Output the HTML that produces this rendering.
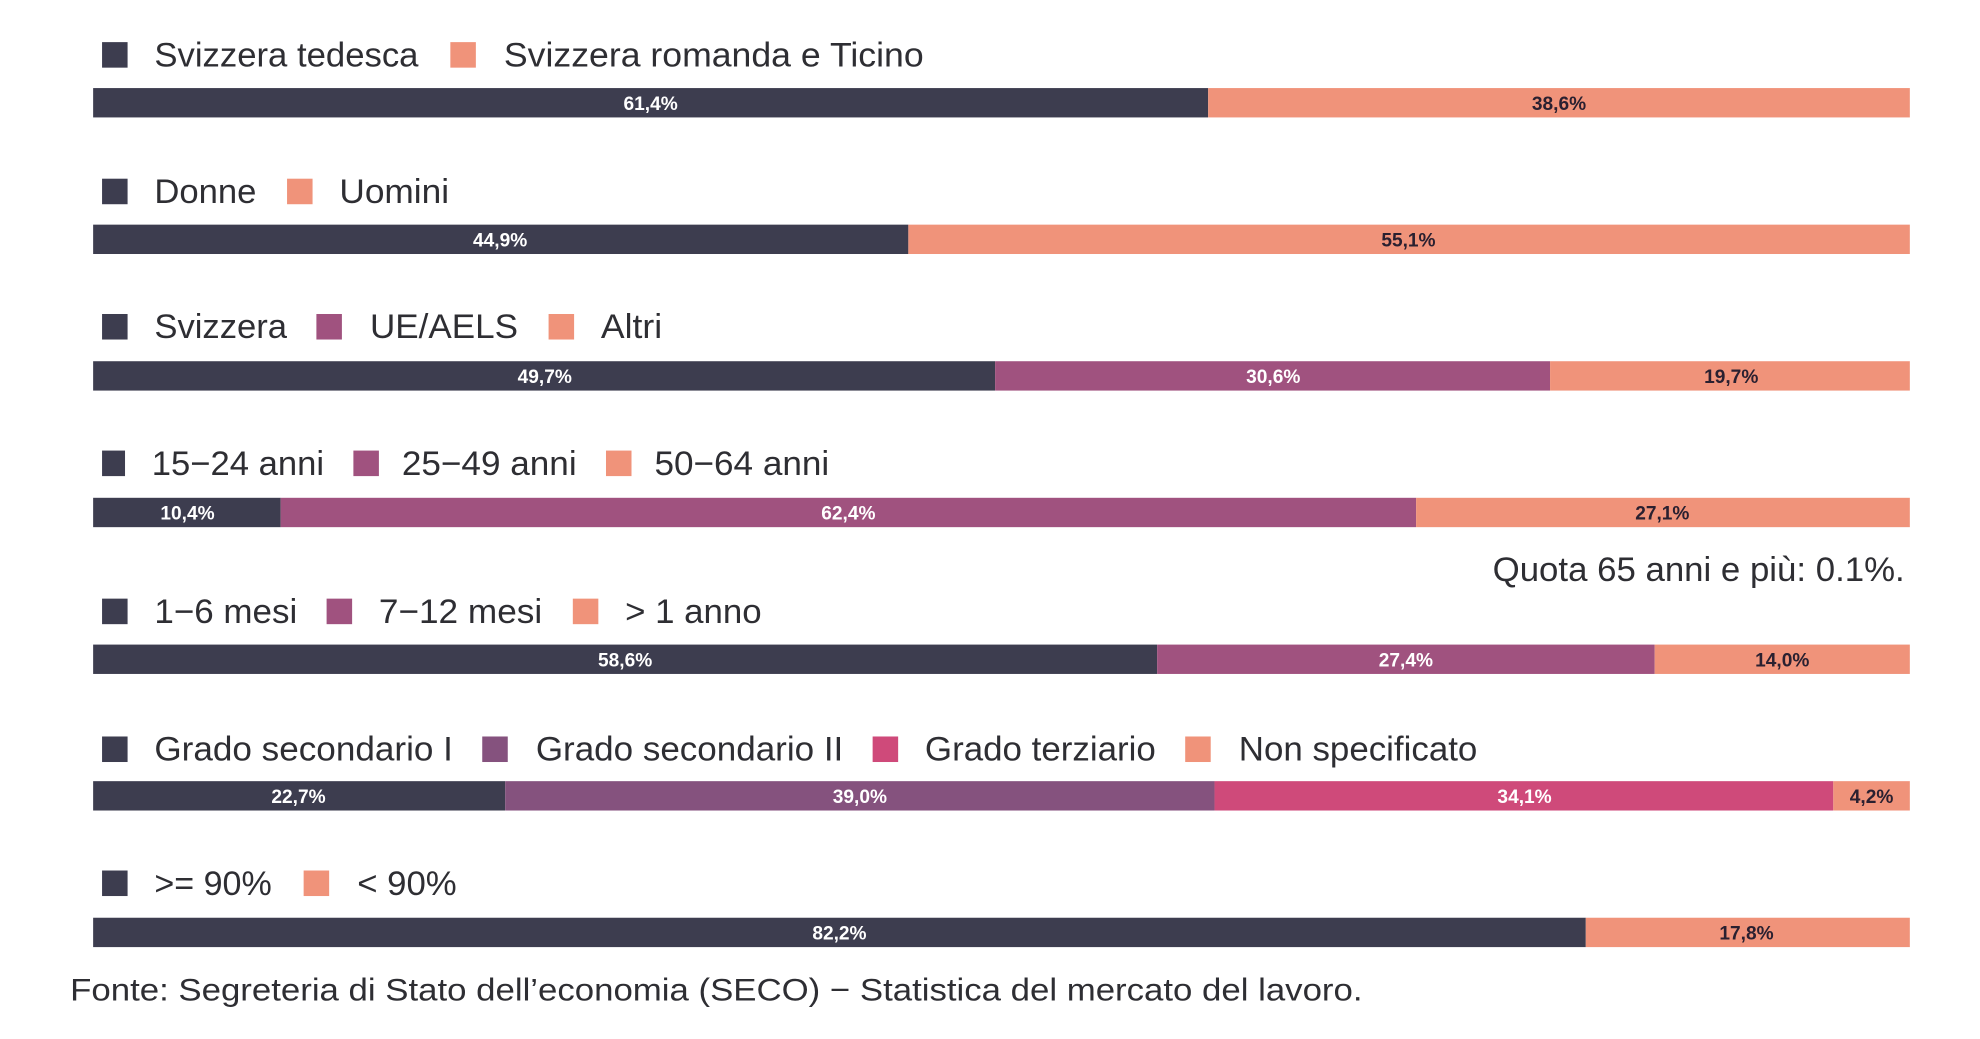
<!DOCTYPE html>
<html><head><meta charset="utf-8"><style>
html,body{margin:0;padding:0;background:#fff;}
svg{display:block;}
.l{font-family:"Liberation Sans",sans-serif;font-size:27px;fill:#2e2e33;}
.b{font-family:"Liberation Sans",sans-serif;font-size:15px;font-weight:bold;text-anchor:middle;}
.w{fill:#fff;} .d{fill:#2a2030;}
</style></head><body>
<svg width="1980" height="1039" viewBox="0 0 1552 814" preserveAspectRatio="none" xmlns="http://www.w3.org/2000/svg">
<rect width="1552" height="814" fill="#fff"/>
<!-- Row 1 -->
<rect x="80" y="33" width="20" height="20" fill="#3d3d4f"/>
<text class="l" x="121" y="52" textLength="207" lengthAdjust="spacingAndGlyphs">Svizzera tedesca</text>
<rect x="353" y="33" width="20" height="20" fill="#f0937a"/>
<text class="l" x="395" y="52" textLength="329" lengthAdjust="spacingAndGlyphs">Svizzera  romanda e Ticino</text>
<rect x="73" y="69" width="874" height="23" fill="#3d3d4f"/>
<rect x="947" y="69" width="550" height="23" fill="#f0937a"/>
<text class="b w" x="510" y="86">61,4%</text>
<text class="b d" x="1222" y="86">38,6%</text>
<!-- Row 2 -->
<rect x="80" y="140" width="20" height="20" fill="#3d3d4f"/>
<text class="l" x="121" y="159" textLength="80" lengthAdjust="spacingAndGlyphs">Donne</text>
<rect x="225" y="140" width="20" height="20" fill="#f0937a"/>
<text class="l" x="266" y="159" textLength="86" lengthAdjust="spacingAndGlyphs">Uomini</text>
<rect x="73" y="176" width="639" height="23" fill="#3d3d4f"/>
<rect x="712" y="176" width="785" height="23" fill="#f0937a"/>
<text class="b w" x="392" y="193">44,9%</text>
<text class="b d" x="1104" y="193">55,1%</text>
<!-- Row 3 -->
<rect x="80" y="246" width="20" height="20" fill="#3d3d4f"/>
<text class="l" x="121" y="265" textLength="104" lengthAdjust="spacingAndGlyphs">Svizzera</text>
<rect x="248" y="246" width="20" height="20" fill="#a0527f"/>
<text class="l" x="290" y="265" textLength="116" lengthAdjust="spacingAndGlyphs">UE/AELS</text>
<rect x="430" y="246" width="20" height="20" fill="#f0937a"/>
<text class="l" x="471" y="265" textLength="48" lengthAdjust="spacingAndGlyphs">Altri</text>
<rect x="73" y="283" width="707" height="23" fill="#3d3d4f"/>
<rect x="780" y="283" width="435" height="23" fill="#a0527f"/>
<rect x="1215" y="283" width="282" height="23" fill="#f0937a"/>
<text class="b w" x="427" y="300">49,7%</text>
<text class="b w" x="998" y="300">30,6%</text>
<text class="b d" x="1357" y="300">19,7%</text>
<!-- Row 4 -->
<rect x="80" y="353" width="18" height="20" fill="#3d3d4f"/>
<text class="l" x="119" y="372" textLength="135" lengthAdjust="spacingAndGlyphs">15−24 anni</text>
<rect x="277" y="353" width="20" height="20" fill="#a0527f"/>
<text class="l" x="315" y="372" textLength="137" lengthAdjust="spacingAndGlyphs">25−49 anni</text>
<rect x="475" y="353" width="20" height="20" fill="#f0937a"/>
<text class="l" x="513" y="372" textLength="137" lengthAdjust="spacingAndGlyphs">50−64 anni</text>
<rect x="73" y="390" width="147" height="23" fill="#3d3d4f"/>
<rect x="220" y="390" width="890" height="23" fill="#a0527f"/>
<rect x="1110" y="390" width="387" height="23" fill="#f0937a"/>
<text class="b w" x="147" y="407">10,4%</text>
<text class="b w" x="665" y="407">62,4%</text>
<text class="b d" x="1303" y="407">27,1%</text>
<text class="l" x="1170" y="455" textLength="323" lengthAdjust="spacingAndGlyphs">Quota 65 anni e più: 0.1%.</text>
<!-- Row 5 -->
<rect x="80" y="469" width="20" height="20" fill="#3d3d4f"/>
<text class="l" x="121" y="488" textLength="112" lengthAdjust="spacingAndGlyphs">1−6 mesi</text>
<rect x="256" y="469" width="20" height="20" fill="#a0527f"/>
<text class="l" x="297" y="488" textLength="128" lengthAdjust="spacingAndGlyphs">7−12 mesi</text>
<rect x="449" y="469" width="20" height="20" fill="#f0937a"/>
<text class="l" x="490" y="488" textLength="107" lengthAdjust="spacingAndGlyphs">&gt; 1 anno</text>
<rect x="73" y="505" width="834" height="23" fill="#3d3d4f"/>
<rect x="907" y="505" width="390" height="23" fill="#a0527f"/>
<rect x="1297" y="505" width="200" height="23" fill="#f0937a"/>
<text class="b w" x="490" y="522">58,6%</text>
<text class="b w" x="1102" y="522">27,4%</text>
<text class="b d" x="1397" y="522">14,0%</text>
<!-- Row 6 -->
<rect x="80" y="577" width="20" height="20" fill="#3d3d4f"/>
<text class="l" x="121" y="596" textLength="234" lengthAdjust="spacingAndGlyphs">Grado secondario I</text>
<rect x="378" y="577" width="20" height="20" fill="#85527e"/>
<text class="l" x="420" y="596" textLength="241" lengthAdjust="spacingAndGlyphs">Grado secondario II</text>
<rect x="684" y="577" width="20" height="20" fill="#cf4a7a"/>
<text class="l" x="725" y="596" textLength="181" lengthAdjust="spacingAndGlyphs">Grado terziario</text>
<rect x="929" y="577" width="20" height="20" fill="#f0937a"/>
<text class="l" x="971" y="596" textLength="187" lengthAdjust="spacingAndGlyphs">Non specificato</text>
<rect x="73" y="612" width="323" height="23" fill="#3d3d4f"/>
<rect x="396" y="612" width="556" height="23" fill="#85527e"/>
<rect x="952" y="612" width="485" height="23" fill="#cf4a7a"/>
<rect x="1437" y="612" width="60" height="23" fill="#f0937a"/>
<text class="b w" x="234" y="629">22,7%</text>
<text class="b w" x="674" y="629">39,0%</text>
<text class="b w" x="1195" y="629">34,1%</text>
<text class="b d" x="1467" y="629">4,2%</text>
<!-- Row 7 -->
<rect x="80" y="682" width="20" height="20" fill="#3d3d4f"/>
<text class="l" x="121" y="701" textLength="92" lengthAdjust="spacingAndGlyphs">&gt;= 90%</text>
<rect x="238" y="682" width="20" height="20" fill="#f0937a"/>
<text class="l" x="280" y="701" textLength="78" lengthAdjust="spacingAndGlyphs">&lt; 90%</text>
<rect x="73" y="719" width="1170" height="23" fill="#3d3d4f"/>
<rect x="1243" y="719" width="254" height="23" fill="#f0937a"/>
<text class="b w" x="658" y="736">82,2%</text>
<text class="b d" x="1369" y="736">17,8%</text>
<!-- Source -->
<text class="l" x="55" y="784" textLength="1013" lengthAdjust="spacingAndGlyphs" style="font-size:25px">Fonte: Segreteria di Stato dell’economia (SECO) − Statistica del mercato del lavoro.</text>
</svg>
</body></html>
